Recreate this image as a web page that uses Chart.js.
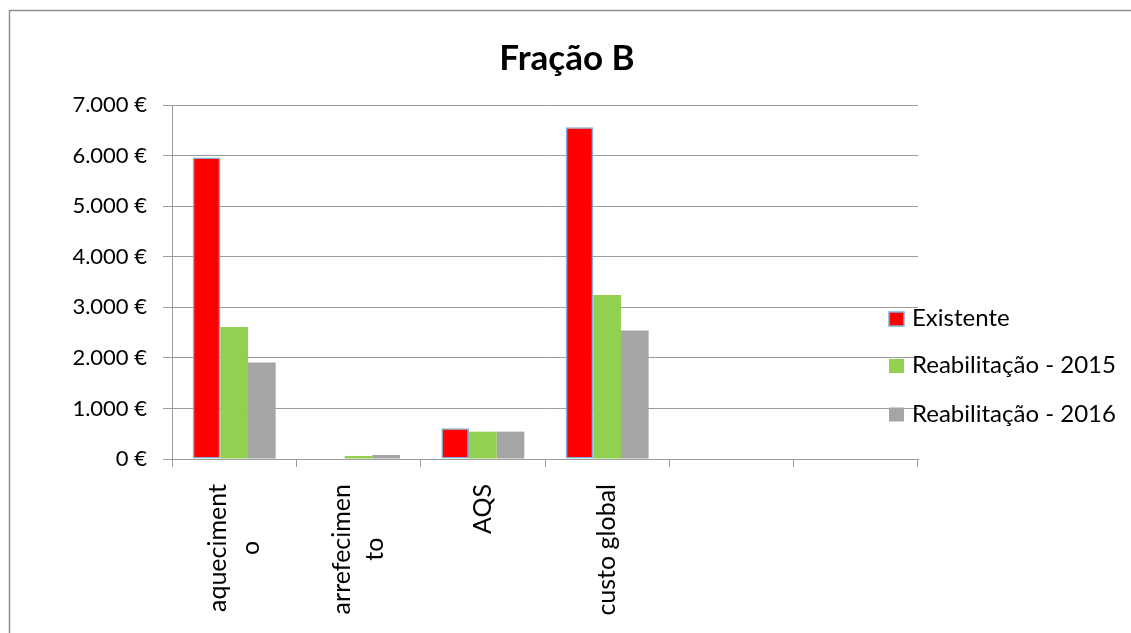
<!DOCTYPE html>
<html><head><meta charset="utf-8">
<script src="https://cdn.jsdelivr.net/npm/chart.js@4.4.1/dist/chart.umd.min.js"></script>
<style>html,body{margin:0;padding:0;background:#fff}#wrap{width:1131px;height:633px;position:relative}</style>
</head><body><div id="wrap"><canvas id="c" width="1131" height="633"></canvas></div>
<script>
const categories = [["aqueciment","o"], ["arrefecimen","to"], "AQS", "custo global", "", ""];
const seriesNames = ["Existente", "Reabilitação - 2015", "Reabilitação - 2016"];
const existente = [5960, 0, 608, 6560, null, null];
const reabilitacao2015 = [2610, 60, 541, 3243, null, null];
const reabilitacao2016 = [1908, 80, 541, 2542, null, null];
const yTicks = [0, 1000, 2000, 3000, 4000, 5000, 6000, 7000];
const chartTitle = "Fração B";

const FONT = "Lato, 'Liberation Sans', sans-serif";
const GRID = '#9c9c9c';
const fmt = v => String(v).replace(/\B(?=(\d{3})+(?!\d))/g, '.') + ' €';

const decor = {
  id: 'decor',
  beforeDraw(chart) {
    const c = chart.ctx;
    c.save();
    c.fillStyle = '#fff'; c.fillRect(0, 0, chart.width, chart.height);
    c.strokeStyle = '#8e8e8e'; c.lineWidth = 1.5;
    c.beginPath(); c.moveTo(9.5, chart.height); c.lineTo(9.5, 10.5); c.lineTo(chart.width, 10.5); c.stroke();
    c.restore();
  },
  afterDraw(chart) {
    const c = chart.ctx, xs = chart.scales.x, ca = chart.chartArea;
    c.save();
    // title
    c.fillStyle = '#000';
    c.font = `bold 35px ${FONT}`; c.textAlign = 'center'; c.textBaseline = 'alphabetic';
    c.fillText(chartTitle, 567, 70);
    // category labels
    c.font = `25px ${FONT}`; c.textBaseline = 'middle'; c.textAlign = 'center';
    const lh = 33;
    chart.data.labels.forEach((lab, i) => {
      const lines = Array.isArray(lab) ? lab : [lab];
      if (!lines.join('')) return;
      const maxW = Math.max(...lines.map(l => c.measureText(l).width));
      const cx = xs.getPixelForValue(i);
      c.save(); c.translate(cx, xs.top); c.rotate(-Math.PI / 2);
      lines.forEach((l, j) => c.fillText(l, -25 - maxW / 2, (j - (lines.length - 1) / 2) * lh));
      c.restore();
    });
    // legend
    c.font = `24px ${FONT}`; c.textAlign = 'left'; c.textBaseline = 'alphabetic';
    const bx = ca.right - 29;
    const baselines = [326, 373, 421.5];
    chart.data.datasets.forEach((ds, k) => {
      const y = baselines[k];
      c.fillStyle = ds.backgroundColor; c.fillRect(bx, y - 14, 15, 14);
      if (ds.borderWidth) { c.strokeStyle = ds.borderColor; c.lineWidth = 1.5; c.strokeRect(bx, y - 14, 15, 14); }
      c.fillStyle = '#000'; c.fillText(ds.label, bx + 23, y);
    });
    c.restore();
  }
};

new Chart(document.getElementById('c'), {
  type: 'bar',
  data: {
    labels: categories,
    datasets: [
      { label: seriesNames[0], data: existente, backgroundColor: '#FF0000', borderColor: '#7EAEDB', borderWidth: 1.5, borderSkipped: false },
      { label: seriesNames[1], data: reabilitacao2015, backgroundColor: '#92D050', borderWidth: 0 },
      { label: seriesNames[2], data: reabilitacao2016, backgroundColor: '#A5A5A5', borderWidth: 0 }
    ]
  },
  options: {
    responsive: false, animation: false, devicePixelRatio: 1,
    categoryPercentage: 0.667, barPercentage: 1.0,
    layout: { padding: { left: 0, right: 213, top: 105, bottom: 0 } },
    scales: {
      x: {
        grid: { offset: true, drawOnChartArea: false, drawTicks: true, tickLength: 8, color: GRID },
        border: { color: GRID },
        ticks: { display: false },
        afterFit(s) { s.height = 174; }
      },
      y: {
        min: 0, max: 7000,
        afterBuildTicks(s) { s.ticks = yTicks.map(v => ({ value: v })); },
        ticks: { padding: 16, color: '#000', font: { family: FONT, size: 22 }, callback: v => fmt(v) },
        grid: { color: GRID, tickLength: 9 },
        border: { color: GRID },
        afterFit(s) { s.width = 172; }
      }
    },
    plugins: {
      legend: { display: false },
      tooltip: { enabled: false },
      title: { display: false }
    }
  },
  plugins: [decor]
});
</script></body></html>
